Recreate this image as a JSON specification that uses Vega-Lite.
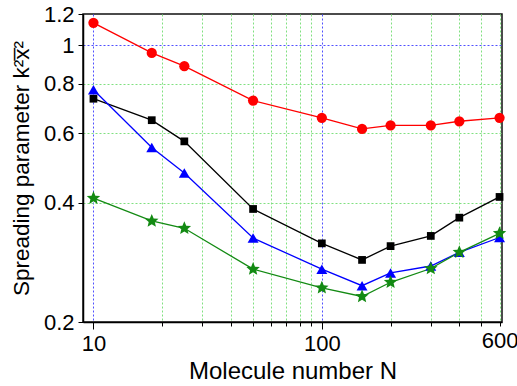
{
  "$schema": "https://vega.github.io/schema/vega-lite/v6.json",
  "autosize": "none",
  "width": 419,
  "height": 308,
  "padding": {"left": 83, "top": 14, "right": 15, "bottom": 64},
  "background": "white",
  "config": {
    "view": {"stroke": "#111111", "strokeWidth": 1.5},
    "font": "Liberation Sans"
  },
  "data": {
    "values": [
      {"N": 10, "v": 0.733, "s": "black"},
      {"N": 18, "v": 0.647, "s": "black"},
      {"N": 25, "v": 0.572, "s": "black"},
      {"N": 50, "v": 0.386, "s": "black"},
      {"N": 100, "v": 0.316, "s": "black"},
      {"N": 150, "v": 0.287, "s": "black"},
      {"N": 200, "v": 0.311, "s": "black"},
      {"N": 300, "v": 0.330, "s": "black"},
      {"N": 400, "v": 0.367, "s": "black"},
      {"N": 600, "v": 0.414, "s": "black"},
      {"N": 10, "v": 0.772, "s": "blue"},
      {"N": 18, "v": 0.552, "s": "blue"},
      {"N": 25, "v": 0.476, "s": "blue"},
      {"N": 50, "v": 0.326, "s": "blue"},
      {"N": 100, "v": 0.272, "s": "blue"},
      {"N": 150, "v": 0.247, "s": "blue"},
      {"N": 200, "v": 0.266, "s": "blue"},
      {"N": 300, "v": 0.277, "s": "blue"},
      {"N": 400, "v": 0.300, "s": "blue"},
      {"N": 600, "v": 0.327, "s": "blue"},
      {"N": 10, "v": 1.14, "s": "red"},
      {"N": 18, "v": 0.957, "s": "red"},
      {"N": 25, "v": 0.886, "s": "red"},
      {"N": 50, "v": 0.725, "s": "red"},
      {"N": 100, "v": 0.656, "s": "red"},
      {"N": 150, "v": 0.615, "s": "red"},
      {"N": 200, "v": 0.628, "s": "red"},
      {"N": 300, "v": 0.628, "s": "red"},
      {"N": 400, "v": 0.643, "s": "red"},
      {"N": 600, "v": 0.656, "s": "red"},
      {"N": 10, "v": 0.411, "s": "green"},
      {"N": 18, "v": 0.360, "s": "green"},
      {"N": 25, "v": 0.345, "s": "green"},
      {"N": 50, "v": 0.272, "s": "green"},
      {"N": 100, "v": 0.244, "s": "green"},
      {"N": 150, "v": 0.232, "s": "green"},
      {"N": 200, "v": 0.252, "s": "green"},
      {"N": 300, "v": 0.273, "s": "green"},
      {"N": 400, "v": 0.300, "s": "green"},
      {"N": 600, "v": 0.335, "s": "green"}
    ]
  },
  "encoding": {
    "x": {
      "field": "N", "type": "quantitative",
      "scale": {"type": "log", "domain": [9, 615], "nice": false},
      "axis": {
        "values": [10, 20, 30, 40, 50, 60, 70, 80, 90, 100, 200, 300, 400, 500, 600],
        "labelExpr": "(datum.value == 10 || datum.value == 100 || datum.value == 600) ? format(datum.value, 'd') : ''",
        "title": "Molecule number N",
        "titleFontSize": 24,
        "titleFontWeight": "normal",
        "titleColor": "black",
        "titleY": 56,
        "titleBaseline": "alphabetic",
        "labelFontSize": 22,
        "labelColor": "black",
        "labelPadding": 4,
        "labelFlush": false,
        "labelOverlap": false,
        "domainColor": "black",
        "domainWidth": 1.5,
        "tickColor": "black",
        "tickWidth": 1,
        "tickSize": {"condition": {"test": "datum.value == 10 || datum.value == 100", "value": 7}, "value": 4},
        "grid": true,
        "gridColor": {"condition": {"test": "datum.value == 10 || datum.value == 100", "value": "#5050ff"}, "value": "#80e080"},
        "gridDash": [2, 2],
        "gridWidth": 1
      }
    },
    "y": {
      "field": "v", "type": "quantitative",
      "scale": {"type": "log", "domain": [0.2, 1.2], "nice": false},
      "axis": {
        "values": [0.2, 0.4, 0.6, 0.8, 1, 1.2],
        "labelExpr": "datum.value == 1 ? '1' : format(datum.value, '.1f')",
        "title": "Spreading parameter k²x̅²",
        "titleFontSize": 22.5,
        "titleFontWeight": "normal",
        "titleColor": "black",
        "titleX": -55,
        "titleBaseline": "alphabetic",
        "labelFontSize": 22,
        "labelColor": "black",
        "labelPadding": 4,
        "labelFlush": false,
        "labelOverlap": false,
        "domainColor": "black",
        "domainWidth": 1.5,
        "tickColor": "black",
        "tickSize": 5,
        "grid": true,
        "gridColor": {"condition": {"test": "datum.value == 1", "value": "#5050ff"}, "value": "#80e080"},
        "gridOpacity": {"condition": {"test": "datum.value == 0.2 || datum.value == 1.2", "value": 0}, "value": 1},
        "gridDash": [2, 2],
        "gridWidth": 1
      }
    },
    "color": {
      "field": "s", "type": "nominal", "legend": null,
      "scale": {"domain": ["black", "blue", "red", "green"], "range": ["#000000", "#0000ff", "#ff0000", "#138a13"]}
    }
  },
  "layer": [
    {"mark": {"type": "line", "strokeWidth": 1.3}, "encoding": {"detail": {"field": "s"}}},
    {
      "mark": {"type": "point", "filled": true, "opacity": 1},
      "encoding": {
        "shape": {"field": "s", "type": "nominal", "legend": null,
          "scale": {"domain": ["black", "blue", "red", "green"], "range": ["square", "triangle-up", "circle", "M0,-1L0.27,-0.35L0.951,-0.309L0.43,0.14L0.588,0.809L0,0.45L-0.588,0.809L-0.43,0.14L-0.951,-0.309L-0.27,-0.35Z"]}},
        "size": {"field": "s", "type": "nominal", "legend": null,
          "scale": {"type": "ordinal", "domain": ["black", "blue", "red", "green"], "range": [60, 120, 105, 200]}}
      }
    }
  ]
}
